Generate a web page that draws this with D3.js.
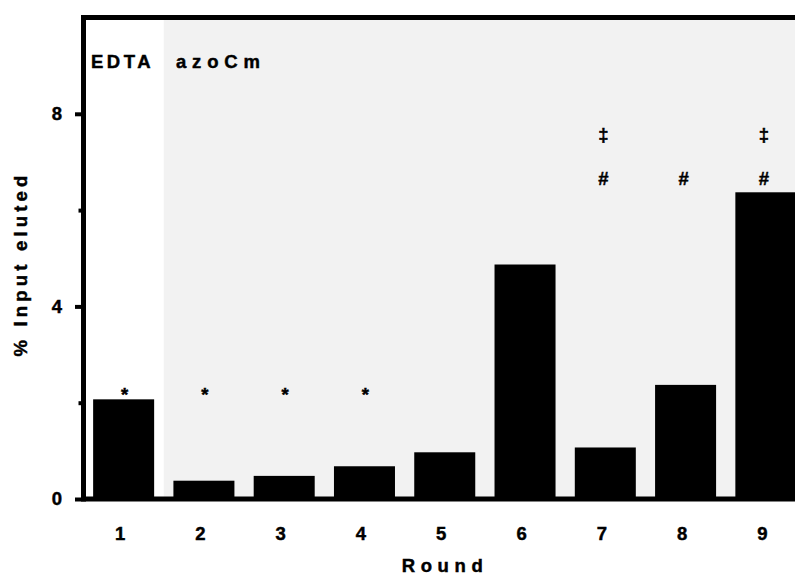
<!DOCTYPE html>
<html>
  <head>
    <meta charset="utf-8">
    <script src="https://d3js.org/d3.v7.min.js"></script>
    <style>
      body { margin: 0; background: #fff; }
      svg text { font-family: "Liberation Sans", Arial, sans-serif; font-weight: bold; fill: #000; stroke: #000; stroke-width: 0.45px; }
    </style>
  </head>
  <body>
    <svg width="795" height="575"></svg>
    <script>
    // data
    var rounds = ["1", "2", "3", "4", "5", "6", "7", "8", "9"];
    var eluted = [2.07, 0.38, 0.48, 0.68, 0.97, 4.87, 1.07, 2.37, 6.37];
    var yTicks = [0, 4, 8];
    var yMinorTicks = [2, 6];
    var starRounds = ["1", "2", "3", "4"];
    var hashRounds = ["7", "8", "9"];
    var daggerRounds = ["7", "9"];

    var svg = d3.select("svg");
    var fs = 18.5;

    // scales (plot runs past the right edge of the window, like the original)
    var x = d3.scaleBand()
        .domain(rounds)
        .range([83.5, 806])
        .paddingInner(0.24)
        .paddingOuter(0.12);

    var y = d3.scaleLinear()
        .domain([0, 10])
        .range([499, 17.5]);

    //grey background for the azoCm rounds
    var greyStart = x("2") - x.step() * x.paddingInner() / 2;
    svg.append("rect")
        .attr("x", greyStart)
        .attr("y", y(10))
        .attr("width", 806 - greyStart)
        .attr("height", y(0) - y(10))
        .attr("fill", "#f2f2f2");

    //bars
    svg.append("g")
      .selectAll("rect")
      .data(rounds)
      .enter().append("rect")
        .attr("x", function(d) { return x(d); })
        .attr("width", x.bandwidth())
        .attr("y", function(d, i) { return y(eluted[i]); })
        .attr("height", function(d, i) { return y(0) - y(eluted[i]); })
        .attr("fill", "#000");

    //significance marks
    function marks(list, level, symbol, dx) {
      svg.append("g")
        .selectAll("text")
        .data(list)
        .enter().append("text")
          .attr("x", function(d) { return x(d) + x.bandwidth() / 2 + dx; })
          .attr("y", y(level))
          .attr("text-anchor", "middle")
          .attr("font-size", fs)
          .text(symbol);
    }
    marks(starRounds, 2.04, "*", 1);
    marks(hashRounds, 6.53, "#", -2);
    marks(daggerRounds, 7.44, "\u2021", -2);

    //condition labels
    svg.append("text")
        .attr("x", 91).attr("y", 68)
        .attr("font-size", fs)
        .attr("letter-spacing", 3.5)
        .text("EDTA");
    svg.append("text")
        .attr("x", 176).attr("y", 68)
        .attr("font-size", fs)
        .attr("letter-spacing", 5.8)
        .text("azoCm");

    //y axis ticks
    var yAxis = svg.append("g")
        .attr("transform", "translate(81,0)")
        .call(d3.axisLeft(y).tickValues(yTicks).tickSize(6).tickPadding(13));
    yAxis.select(".domain").remove();
    yAxis.selectAll("line").attr("stroke", "#000").attr("stroke-width", 4);
    yAxis.selectAll("text").attr("font-size", fs).attr("font-family", null);

    var yMinor = svg.append("g")
        .attr("transform", "translate(81,0)")
        .call(d3.axisLeft(y).tickValues(yMinorTicks).tickSize(2.5).tickFormat(""));
    yMinor.select(".domain").remove();
    yMinor.selectAll("line").attr("stroke", "#000").attr("stroke-width", 4);

    //x axis labels
    var xAxis = svg.append("g")
        .attr("transform", "translate(-3.5," + y(0) + ")")
        .call(d3.axisBottom(x).tickSize(0).tickPadding(28));
    xAxis.select(".domain").remove();
    xAxis.selectAll("text").attr("font-size", fs).attr("font-family", null);

    //frame lines
    svg.append("line")
        .attr("x1", 83.5).attr("x2", 83.5)
        .attr("y1", y(10) - 2.5).attr("y2", y(0) + 2.5)
        .attr("stroke", "#000").attr("stroke-width", 5);
    svg.append("line")
        .attr("x1", 81).attr("x2", 806)
        .attr("y1", y(0)).attr("y2", y(0))
        .attr("stroke", "#000").attr("stroke-width", 5);
    svg.append("line")
        .attr("x1", 81).attr("x2", 806)
        .attr("y1", y(10)).attr("y2", y(10))
        .attr("stroke", "#000").attr("stroke-width", 5);

    //axis titles
    svg.append("text")
        .attr("x", 445).attr("y", 572)
        .attr("text-anchor", "middle")
        .attr("font-size", fs)
        .attr("letter-spacing", 5.6)
        .text("Round");
    svg.append("text")
        .attr("transform", "translate(27,264) rotate(-90)")
        .attr("text-anchor", "middle")
        .attr("font-size", fs)
        .attr("letter-spacing", 4.2)
        .text("% Input eluted");
    </script>
  </body>
</html>
